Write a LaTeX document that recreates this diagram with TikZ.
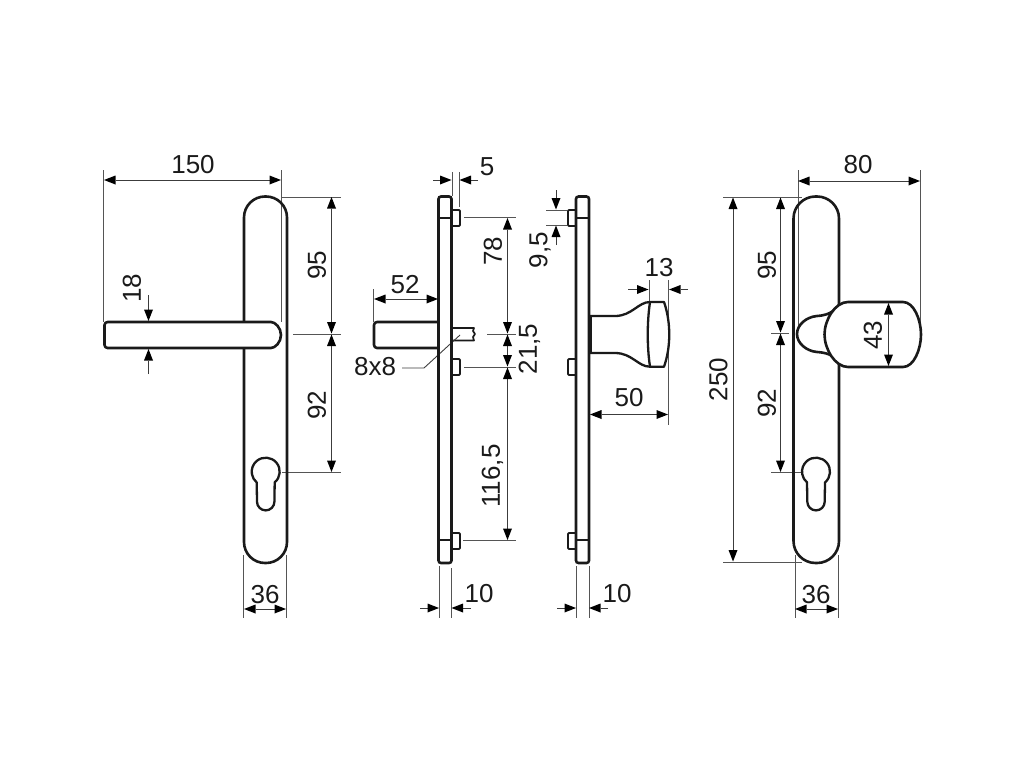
\documentclass[tikz,border=0pt]{standalone}
\usepackage{fontspec}
\setmainfont{Liberation Sans}
\usetikzlibrary{arrows.meta}
\definecolor{ink}{HTML}{1A1A1A}
\definecolor{thin}{HTML}{555555}
\tikzset{
  part/.style={draw=ink,line width=2.6pt,line join=round,fill=white},
  partline/.style={draw=ink,line width=2.6pt},
  peg/.style={draw=ink,line width=1.8pt,line join=round,fill=white},
  ext/.style={draw=thin,line width=0.9pt},
  dimline/.style={draw=ink!85!white,line width=0.9pt},
  tip/.style={dimline,-{Triangle[length=11.5pt,width=9pt,fill=black,line width=0pt]}},
  tips/.style={dimline,{Triangle[length=11.5pt,width=9pt,fill=black,line width=0pt]}-{Triangle[length=11.5pt,width=9pt,fill=black,line width=0pt]}},
  lab/.style={text=ink,font=\fontsize{26}{26}\selectfont,inner sep=0pt},
  vlab/.style={lab,rotate=90},
  keyhole/.pic={
    \path[part,line width=2.3pt] (9,10.7) arc[start angle=50,end angle=-230,radius=14]
      -- (-8.7,30) arc[start angle=180,end angle=0,radius=8.7] -- cycle;
  }
}
\begin{document}
\begin{tikzpicture}[x=1pt,y=-1pt]
\useasboundingbox (0,0) rectangle (1024,768);
% ---------- view 1: lever front
\draw[ext] (103.5,170) -- (103.5,322);
\draw[ext] (281.5,170) -- (281.5,322);
\draw[ext] (282,197) -- (341,197);
\draw[ext] (293,334) -- (341,334);
\draw[ext] (282,472) -- (341,472);
\draw[ext] (243.5,555) -- (243.5,618);
\draw[ext] (286.5,555) -- (286.5,618);
\draw[part,fill=none,rounded corners=21pt] (244,196.5) rectangle (287,563);
\pic at (265.7,471.7) {keyhole};
\draw[part,rounded corners=3pt] (104.5,322) -- (200,322) -- (268,322) arc[start angle=-90,end angle=90,radius=13] -- (200,348) -- (104.5,348) -- cycle;
\draw[tips] (104,180) -- (281,180);
\draw[tips] (331.5,197) -- (331.5,333.5);
\draw[tips] (331.5,334.5) -- (331.5,472);
\draw[tip] (148.5,295) -- (148.5,321);
\draw[tip] (148.5,374) -- (148.5,349);
\draw[tips] (244,609) -- (286,609);
\node[lab] (t150) at (193,165) {150};
\node[vlab] (t95a) at (317,265) {95};
\node[vlab] (t92a) at (317,405) {92};
\node[vlab] (t18) at (132,288) {18};
\node[lab] (t36a) at (265,595) {36};
% ---------- view 2: lever side
\draw[ext] (452,172) -- (452,196);
\draw[ext] (459,172) -- (459,207);
\draw[ext] (373.5,289) -- (373.5,322);
\draw[ext] (464,217.5) -- (516,217.5);
\draw[ext] (487,334) -- (516,334);
\draw[ext] (464,367) -- (516,367);
\draw[ext] (463,540.5) -- (516,540.5);
\draw[ext] (439,566) -- (439,618);
\draw[ext] (451.5,568) -- (451.5,618);
\draw[part,rounded corners=3pt] (438,322) -- (374,322) -- (374,348) -- (438,348);
\draw[part,line width=1.7pt] (452,328) -- (474,328) -- (473,331) -- (475,334) -- (473,337) -- (474,340.5) -- (452,340.5);
\draw[dimline] (402,368) -- (424,368) -- (460,335);
\draw[peg,rounded corners=1pt] (452,210) -- (460,210) -- (460,226) -- (452,226);
\draw[peg,rounded corners=1pt] (452,359) -- (460,359) -- (460,375) -- (452,375);
\draw[peg,rounded corners=1pt] (452,533) -- (460,533) -- (460,549) -- (452,549);
\draw[partline,fill=none,rounded corners=2.5pt] (438.5,196.5) rectangle (451.5,563);
\draw[partline] (438.5,218) -- (451.5,218);
\draw[partline] (438.5,540) -- (451.5,540);
\draw[tip] (433,180) -- (451.5,180);
\draw[tip] (478,180) -- (459.5,180);
\draw[tips] (374,299) -- (438,299);
\draw[tips] (507.5,218) -- (507.5,333.5);
\draw[tips] (507.5,334.5) -- (507.5,366.5);
\draw[tips] (507.5,367.5) -- (507.5,540);
\draw[tip] (420,608) -- (439,608);
\draw[tip] (471,608) -- (451.5,608);
\node[lab] (t5) at (487,167) {5};
\node[lab] (t52) at (405,285) {52};
\node[lab] (t8x8) at (375,367) {8x8};
\node[vlab] (t78) at (493,251) {78};
\node[vlab] (t215) at (529.5,349) {21,5};
\node[vlab] (t1165) at (492.5,476) {116,5};
\node[lab] (t10a) at (479,594) {10};
% ---------- view 3: knob side
\draw[ext] (546,210) -- (567,210);
\draw[ext] (546,225) -- (567,225);
\draw[ext] (649,280) -- (649,302);
\draw[ext] (668.5,280) -- (668.5,425);
\draw[ext] (576,566) -- (576,618);
\draw[ext] (589,566) -- (589,618);
\draw[peg,rounded corners=1pt] (576,210) -- (568,210) -- (568,226) -- (576,226);
\draw[peg,rounded corners=1pt] (576,359) -- (568,359) -- (568,375) -- (576,375);
\draw[peg,rounded corners=1pt] (576,533) -- (568,533) -- (568,549) -- (576,549);
\draw[partline,fill=none,rounded corners=2.5pt] (576,196.5) rectangle (589,563);
\draw[partline] (576,218) -- (589,218);
\draw[partline] (576,540) -- (589,540);
\draw[part,line width=2.3pt] (590,316) -- (615,316) .. controls (632,316) and (638,302) .. (650,302) -- (664,302)
  .. controls (671,322) and (671,347) .. (664,366.7) -- (650,366.7) .. controls (638,366.7) and (632,353) .. (615,353) -- (590,353);
\draw[partline,line width=2.3pt] (650,302) .. controls (647,322) and (647,347) .. (650,366.7);
\draw[partline,line width=3pt] (590.5,316) -- (590.5,353);
\draw[tip] (556,190) -- (556,209.5);
\draw[tip] (556,245) -- (556,225.5);
\draw[tip] (628,289.5) -- (648.5,289.5);
\draw[tip] (688,289.5) -- (669,289.5);
\draw[tips] (590,414.5) -- (668,414.5);
\draw[tip] (557,608) -- (576,608);
\draw[tip] (608,608) -- (589,608);
\node[vlab] (t95b) at (540,250) {9,5};
\node[lab] (t13) at (659,268) {13};
\node[lab] (t50) at (629,398) {50};
\node[lab] (t10b) at (617,594) {10};
% ---------- view 4: knob front
\draw[ext] (798,170) -- (798,326);
\draw[ext] (920.5,170) -- (920.5,330);
\draw[ext] (723,197) -- (802,197);
\draw[ext] (723,562) -- (802,562);
\draw[ext] (771,333) -- (789,333);
\draw[ext] (771,472) -- (808,472);
\draw[ext] (795,555) -- (795,618);
\draw[ext] (838,555) -- (838,618);
\draw[part,fill=none,rounded corners=22pt] (793.5,196.5) rectangle (839,563);
\pic at (816,471.7) {keyhole};
\draw[part] (840,304) .. controls (835,309) and (832,315) .. (817,316) .. controls (806,317) and (797,325) .. (797,334)
  .. controls (797,343) and (806,351) .. (817,352) .. controls (832,353) and (835,358) .. (842,364) -- cycle;
\draw[part] (848,302) -- (903,302) .. controls (914,302) and (921,320) .. (921,334.5) .. controls (921,349) and (914,367) .. (903,367)
  -- (848,367) .. controls (835,367) and (824.5,349) .. (824.5,334.5) .. controls (824.5,320) and (835,302) .. (848,302) -- cycle;
\draw[tips] (798,181) -- (920,181);
\draw[tips] (733,197.5) -- (733,561.5);
\draw[tips] (780.5,197.5) -- (780.5,332.5);
\draw[tips] (780.5,333.5) -- (780.5,472);
\draw[tips] (888.5,303) -- (888.5,366);
\draw[tips] (795,609) -- (838,609);
\node[lab] (t80) at (858,165) {80};
\node[vlab] (t250) at (718.5,379.5) {250};
\node[vlab] (t95c) at (767,265) {95};
\node[vlab] (t92b) at (767,403) {92};
\node[vlab] (t43) at (873,335) {43};
\node[lab] (t36b) at (816,595) {36};
\end{tikzpicture}
\end{document}
